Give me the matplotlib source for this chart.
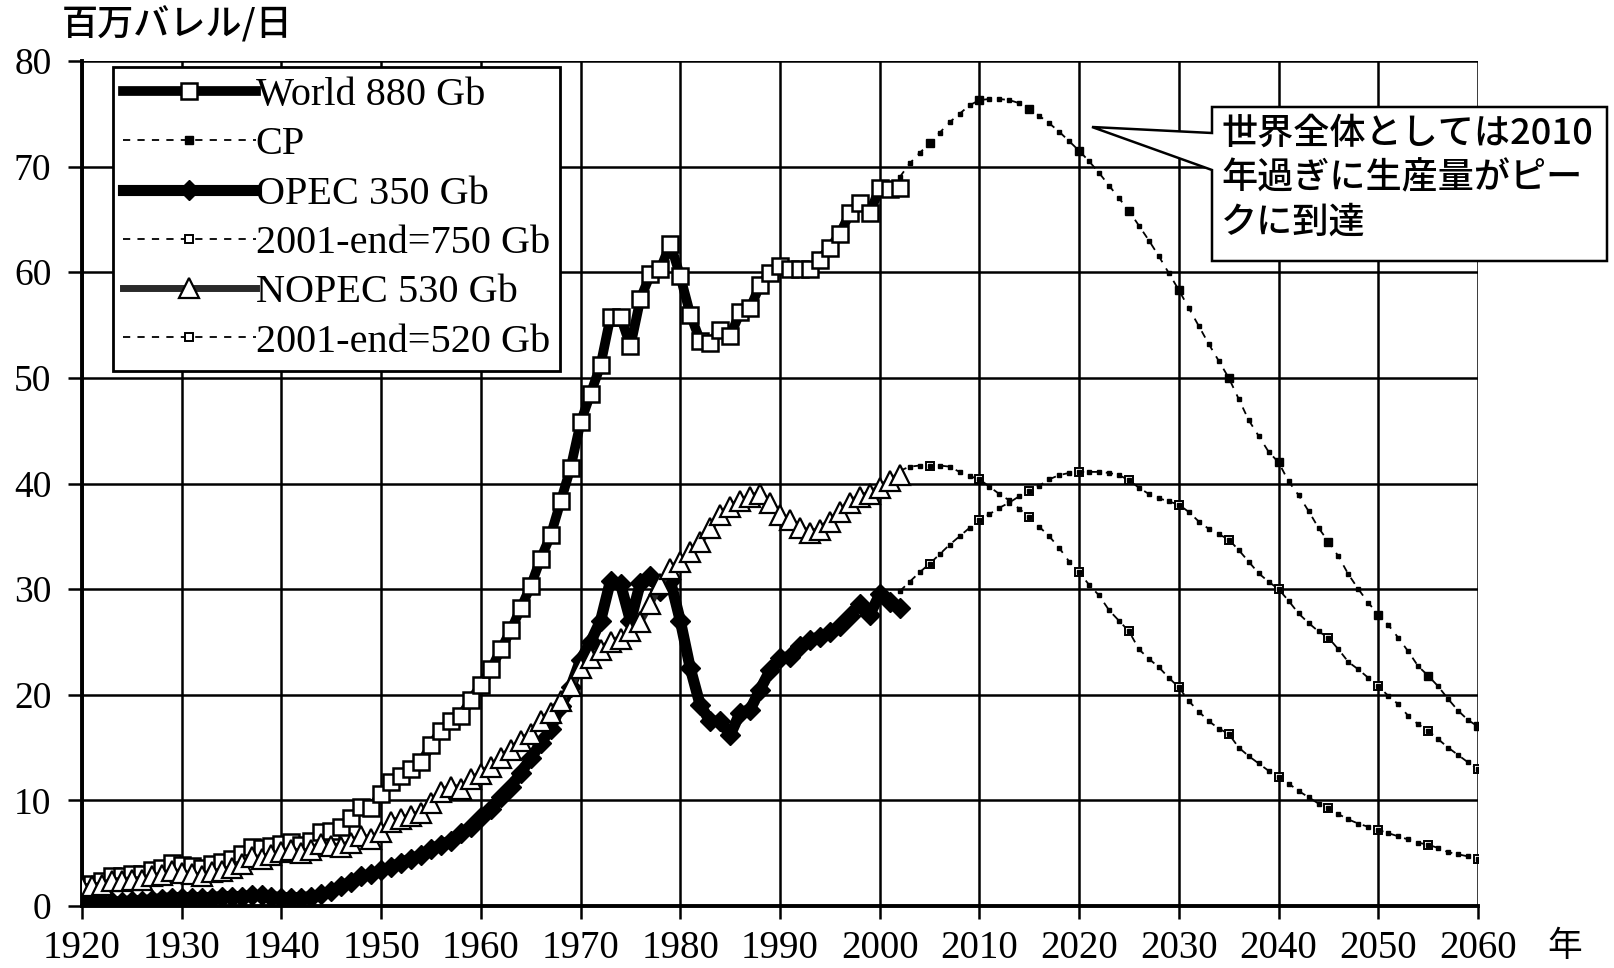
import numpy as np
import matplotlib.pyplot as plt
from matplotlib.patches import Polygon

# 実績 (1920-2002), 百万バレル/日
hist_years = np.arange(1920, 2003)
world = [2.0, 2.1, 2.4, 2.8, 2.8, 3.0, 3.0, 3.4, 3.6, 4.1,
         3.9, 3.8, 3.6, 4.0, 4.2, 4.5, 4.9, 5.6, 5.5, 5.7,
         5.9, 6.1, 5.8, 6.2, 7.0, 7.1, 7.5, 8.3, 9.4, 9.3,
         10.6, 11.7, 12.3, 13.0, 13.6, 15.2, 16.6, 17.5, 18.0, 19.5,
         20.9, 22.4, 24.3, 26.1, 28.2, 30.3, 32.9, 35.1, 38.3, 41.5,
         45.8, 48.5, 51.2, 55.8, 55.8, 53.0, 57.5, 59.8, 60.3, 62.7,
         59.6, 56.0, 53.5, 53.3, 54.5, 54.0, 56.2, 56.6, 58.8, 59.9,
         60.6, 60.3, 60.3, 60.3, 61.2, 62.3, 63.6, 65.6, 66.6, 65.6,
         68.0, 67.9, 68.0]
opec = [0.2, 0.3, 0.4, 0.4, 0.4, 0.5, 0.5, 0.6, 0.7, 0.8,
        0.8, 0.8, 0.8, 0.8, 0.9, 0.9, 0.9, 1.0, 1.0, 0.9,
        0.8, 0.8, 0.8, 0.9, 1.1, 1.4, 1.9, 2.3, 2.8, 3.0,
        3.4, 3.7, 4.1, 4.5, 4.8, 5.4, 5.8, 6.2, 6.9, 7.5,
        8.4, 9.2, 10.3, 11.3, 12.6, 14.0, 15.4, 16.8, 18.9, 20.7,
        23.3, 25.0, 27.0, 30.8, 30.5, 27.0, 30.6, 31.2, 29.8, 30.8,
        27.0, 22.5, 19.0, 17.5, 17.5, 16.2, 18.3, 18.6, 20.5, 22.3,
        23.5, 23.6, 24.6, 25.2, 25.5, 25.9, 26.5, 27.5, 28.6, 27.6,
        29.5, 28.8, 28.2]
nopec = [1.8, 1.9, 2.0, 2.4, 2.4, 2.5, 2.5, 2.8, 2.9, 3.3,
         3.1, 3.0, 2.8, 3.2, 3.3, 3.6, 4.0, 4.6, 4.5, 4.8,
         5.1, 5.3, 5.0, 5.3, 5.9, 5.7, 5.6, 6.0, 6.6, 6.3,
         7.0, 8.0, 8.2, 8.5, 8.8, 9.8, 10.8, 11.3, 11.1, 12.0,
         12.5, 13.2, 14.0, 14.8, 15.6, 16.3, 17.5, 18.3, 19.4, 20.8,
         22.5, 23.5, 24.2, 25.0, 25.3, 26.0, 26.9, 28.6, 30.5, 31.9,
         32.6, 33.5, 34.5, 35.8, 37.0, 37.8, 38.3, 38.7, 39.0, 38.2,
         37.0, 36.5, 35.8, 35.3, 35.6, 36.4, 37.3, 38.2, 38.7, 39.0,
         39.6, 40.2, 40.8]

# 予測 (2002-2060)
fc_years = np.arange(2002, 2061)
world_fc = [69.0, 70.3, 71.3, 72.2, 73.2, 74.2, 75.0, 75.8, 76.3, 76.4,
            76.4, 76.3, 76.0, 75.5, 74.8, 74.1, 73.3, 72.4, 71.5, 70.5,
            69.4, 68.2, 67.0, 65.8, 64.4, 63.0, 61.5, 59.9, 58.3, 56.6,
            54.9, 53.2, 51.6, 50.0, 48.0, 46.0, 44.5, 43.0, 42.0, 40.2,
            38.9, 37.4, 35.8, 34.5, 33.1, 31.4, 30.0, 28.7, 27.6, 26.6,
            25.4, 24.1, 22.7, 21.8, 20.8, 19.6, 18.5, 17.6, 17.0]
opec_fc = [29.8, 30.7, 31.6, 32.4, 33.3, 34.2, 35.0, 35.8, 36.5, 37.1,
           37.7, 38.2, 38.8, 39.3, 39.8, 40.4, 40.8, 41.0, 41.1, 41.1,
           41.1, 41.0, 40.8, 40.3, 39.6, 39.0, 38.6, 38.3, 38.0, 37.3,
           36.4, 35.7, 35.2, 34.7, 33.7, 32.6, 31.5, 30.7, 30.0, 28.9,
           27.7, 26.8, 26.0, 25.4, 24.3, 23.1, 22.4, 21.6, 20.8, 19.9,
           19.1, 18.0, 17.2, 16.6, 15.8, 15.0, 14.3, 13.6, 13.0]
nopec_fc = [41.2, 41.6, 41.7, 41.7, 41.7, 41.6, 41.1, 40.7, 40.4, 39.7,
            39.0, 38.4, 37.6, 36.8, 35.9, 35.0, 33.9, 32.6, 31.6, 30.4,
            29.4, 28.0, 27.0, 26.0, 24.3, 23.4, 22.6, 21.6, 20.7, 19.4,
            18.4, 17.5, 16.8, 16.3, 15.0, 14.2, 13.5, 12.8, 12.2, 11.6,
            10.9, 10.3, 9.7, 9.3, 8.7, 8.2, 7.8, 7.5, 7.2, 6.9,
            6.6, 6.3, 6.0, 5.8, 5.5, 5.1, 4.9, 4.7, 4.5]

labels = ['World 880 Gb', 'CP', 'OPEC 350 Gb', '2001-end=750 Gb',
          'NOPEC 530 Gb', '2001-end=520 Gb']
x_ticks = np.arange(1920, 2061, 10)
y_ticks = np.arange(0, 81, 10)

jp = ['Noto Sans CJK JP', 'DejaVu Sans']
serif = 'Liberation Serif'

fig = plt.figure(figsize=(16.15, 9.68), dpi=100)
ax = fig.add_axes([0.0508, 0.064, 0.8644, 0.873])

dash = (0, (4, 4))
ax.plot(hist_years, world, color='black', lw=7, marker='s', ms=11,
        mfc='white', mec='black', mew=1.8, label=labels[0], zorder=4)
ax.plot(fc_years, world_fc, color='black', lw=1.3, ls=dash, marker='s', ms=6,
        mfc='black', mec='black', markevery=(3, 5), label=labels[1], zorder=3)
ax.plot(hist_years, opec, color='black', lw=8, marker='D', ms=10,
        mfc='black', mec='black', label=labels[2], zorder=4)
ax.plot(fc_years, opec_fc, color='black', lw=1.3, ls=dash, marker='s', ms=6,
        mfc='white', mec='black', mew=1.4, markevery=(3, 5), label=labels[3], zorder=3)
ax.plot(hist_years, nopec, color='#2a2a2a', lw=5, marker='^', ms=15,
        mfc='white', mec='black', mew=1.6, label=labels[4], zorder=5)
ax.plot(fc_years, nopec_fc, color='black', lw=1.3, ls=dash, marker='s', ms=6,
        mfc='white', mec='black', mew=1.4, markevery=(3, 5), label=labels[5], zorder=3)
# 予測線の年ごとの小さな目印
for fc in [world_fc, opec_fc, nopec_fc]:
    ax.plot(fc_years, fc, ls='none', marker='s', ms=2.5, color='black', zorder=3)

ax.set_xlim(1920, 2060)
ax.set_ylim(0, 80)
ax.set_xticks(x_ticks)
ax.set_yticks(y_ticks)
ax.grid(True, color='black', lw=1.8)
ax.set_axisbelow(True)
for s in ['top', 'right']:
    ax.spines[s].set_visible(False)
for s in ['left', 'bottom']:
    ax.spines[s].set_linewidth(2.8)
ax.tick_params(axis='x', length=9, width=1.8, pad=8, labelsize=28)
ax.tick_params(axis='y', length=10, width=1.8, pad=12, labelsize=27)
for t in ax.get_xticklabels() + ax.get_yticklabels():
    t.set_fontfamily(serif)

leg = ax.legend(loc='upper left', bbox_to_anchor=(0.022, 0.993),
                prop={'family': serif, 'size': 29}, frameon=True, fancybox=False,
                edgecolor='black', framealpha=1, handlelength=3.3,
                handletextpad=0.0, labelspacing=0.3, borderpad=0.25,
                borderaxespad=0)
leg.get_frame().set_linewidth(2)
leg.set_zorder(10)

fig.text(0.038, 0.993, '百万バレル/日', family=jp, fontsize=26, va='top', ha='left',
         fontweight='medium')
fig.text(0.969, 0.022, '年', family=jp, fontsize=25, va='center', ha='center')

# 吹き出し
W, H = 1615, 968
pts = [(1212, 133), (1212, 107), (1607, 107), (1607, 261), (1212, 261),
       (1212, 170), (1092, 127)]
poly = Polygon([(x / W, 1 - y / H) for x, y in pts], closed=True,
               transform=fig.transFigure, facecolor='white', edgecolor='black',
               lw=1.8, zorder=20)
fig.add_artist(poly)
fig.text(1221 / W, 1 - 116 / H, '世界全体としては2010\n年過ぎに生産量がピー\nクに到達',
         family=jp, fontsize=26, va='top', ha='left', linespacing=1.3, zorder=21,
         fontweight='medium')

fig.savefig('out.png', dpi=100)
